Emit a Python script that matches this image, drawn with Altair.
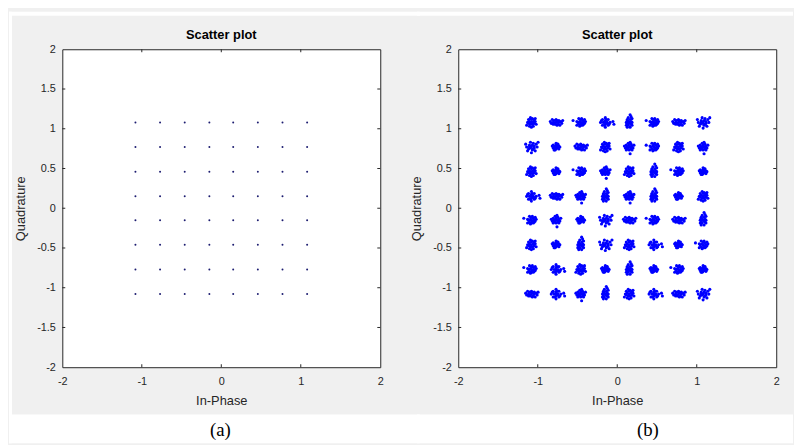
import altair as alt
import pandas as pd

# ---- data ----
LEVELS = [-1.08, -0.77, -0.46, -0.15, 0.15, 0.46, 0.77, 1.08]   # 64-QAM constellation levels
X_TICKS = [-2, -1, 0, 1, 2]
Y_TICKS = [-2, -1.5, -1, -0.5, 0, 0.5, 1, 1.5, 2]
INNER_X = [-1, 0, 1]
INNER_Y = [-1.5, -1, -0.5, 0, 0.5, 1, 1.5]
TITLE = "Scatter plot"
XLABEL = "In-Phase"
YLABEL = "Quadrature"
CAPTIONS = ["(a)", "(b)"]

# cluster shapes of the noisy panel, offsets in hundredths of a unit
PATTERNS = [
    [(0, 0), (2, 1), (-2, 1), (1, -2), (-1, -2), (3, -1), (-3, -1), (0, 3), (3, 3), (-3, 3),
     (2, -4), (-2, -4), (4, 1), (-4, 0), (1, 4), (-1, 5), (5, -2), (0, -5), (-5, -3), (4, 4)],
    [(0, 0), (3, 0), (-3, 0), (5, 1), (-5, -1), (1, 2), (-1, -2), (2, -2), (-2, 2), (6, -1),
     (-6, 1), (0, 3), (3, 2), (-3, -2), (4, -3), (-4, 3), (1, -3), (7, 2), (-2, -1), (2, 1)],
    [(0, 0), (1, 3), (-1, -3), (-1, 5), (1, -5), (2, 1), (-2, -1), (2, -2), (-2, 2), (2, 6),
     (-2, -5), (3, 0), (-3, 0), (1, 8), (3, 4), (-3, -3), (1, -1), (-1, 1), (3, -3), (-2, 3)],
    [(0, 0), (2, 2), (-2, -2), (4, 3), (-4, -3), (1, -1), (-1, 1), (3, 0), (0, 3), (-3, 0),
     (0, -3), (5, 1), (-8, 2), (2, -3), (-2, 4), (3, -2), (1, 4), (-4, 1), (4, -1), (-1, -4)],
    [(0, 0), (-2, 0), (2, 0), (-4, -1), (4, -1), (0, 2), (-1, 4), (2, 3), (-3, 2), (-3, -3),
     (3, -3), (0, -3), (-5, 1), (5, 2), (1, -7), (-2, -2), (2, -2), (-1, -1), (3, 1), (1, 5)],
    [(0, 0), (2, 0), (-2, 0), (0, 2), (0, -2), (3, 3), (-3, -3), (3, -3), (-3, 3), (5, 0),
     (-5, 0), (0, 5), (0, -5), (8, 1), (9, -2), (-4, 2), (4, -2), (1, 3), (-1, -3), (2, -1)],
    [(0, 0), (1, 1), (-1, -1), (1, -1), (-1, 1), (2, 0), (-2, 0), (0, 2), (0, -2), (3, 1),
     (-3, -1), (1, 3), (-1, -3), (3, -2), (-3, 2), (4, 0), (-4, 1), (2, 3), (-2, -3), (0, 4)],
    [(0, 0), (3, 1), (-2, 2), (1, -3), (-3, -2), (5, 3), (-1, 5), (4, -4), (-5, 0), (2, 4),
     (-4, -4), (6, 0), (0, -6), (-6, 3), (3, -1), (-1, -1), (1, 2), (2, -2), (-2, 0), (7, 5)],
]
# which shape each cluster has, rows from top (Q = 1.08) to bottom
ASSIGN = [
    [0, 1, 3, 5, 2, 3, 1, 7],
    [7, 6, 1, 0, 4, 3, 0, 4],
    [0, 6, 3, 4, 0, 2, 3, 6],
    [5, 1, 4, 2, 4, 2, 6, 0],
    [3, 4, 6, 7, 1, 3, 1, 2],
    [0, 6, 2, 7, 0, 5, 6, 3],
    [3, 5, 0, 6, 2, 6, 3, 6],
    [1, 5, 4, 2, 0, 5, 1, 7],
]
UNIT = 0.012

ideal = pd.DataFrame([{"I": i, "Q": q} for q in LEVELS for i in LEVELS])
rows = []
for r, q in enumerate(LEVELS[::-1]):
    for c, i in enumerate(LEVELS):
        for dx, dy in PATTERNS[ASSIGN[r][c]]:
            rows.append({"I": i + dx * UNIT, "Q": q + dy * UNIT})
noisy = pd.DataFrame(rows)

W = H = 322
INK = "#262626"
FONT = "Liberation Sans"
GRAY = "#f0f0f0"

common = dict(domain=False, ticks=False, tickSize=0, grid=False,
              labelFont=FONT, labelFontSize=11, labelColor=INK,
              labelExpr="'' + datum.value", labelOverlap=False, labelFlush=False,
              titleFont=FONT, titleFontSize=13, titleFontWeight="normal",
              titleColor=INK)
XAXIS = alt.Axis(values=X_TICKS, title=XLABEL, labelPadding=8, titlePadding=9, **common)
YAXIS = alt.Axis(values=Y_TICKS, title=YLABEL, labelPadding=7, titlePadding=9, **common)


def panel(df, color, size, caption, cap_x, left_edge, right_edge, left_strip):
    xs = alt.Scale(domain=[-2, 2], nice=False, zero=False)
    ys = alt.Scale(domain=[-2, 2], nice=False, zero=False)
    one = pd.DataFrame({"k": [0]})
    X = lambda: alt.X("I:Q", scale=xs, axis=XAXIS)
    Y = lambda: alt.Y("Q:Q", scale=ys, axis=YAXIS)
    layers = []
    # points first so that the axes are defined by this layer
    layers.append(alt.Chart(df).mark_circle(size=size, color=color, opacity=1).encode(x=X(), y=Y()))
    # inner tick marks (MATLAB style, pointing into the box)
    tx = pd.DataFrame({"I": INNER_X})
    ty = pd.DataFrame({"Q": INNER_Y})
    layers.append(alt.Chart(tx).mark_rule(color=INK).encode(
        x=X(), y=alt.value(H), y2=alt.value(H - 3)))
    layers.append(alt.Chart(tx).mark_rule(color=INK).encode(
        x=X(), y=alt.value(0), y2=alt.value(3)))
    layers.append(alt.Chart(ty).mark_rule(color=INK).encode(
        y=Y(), x=alt.value(0), x2=alt.value(3)))
    layers.append(alt.Chart(ty).mark_rule(color=INK).encode(
        y=Y(), x=alt.value(W), x2=alt.value(W - 3)))
    # white page margins around the grey figure window
    layers.append(alt.Chart(one).mark_rect(fill="white").encode(
        x=alt.value(left_edge), x2=alt.value(right_edge), y=alt.value(-38), y2=alt.value(-34)))
    layers.append(alt.Chart(one).mark_rect(fill="white").encode(
        x=alt.value(left_edge), x2=alt.value(right_edge), y=alt.value(370), y2=alt.value(399)))
    if left_strip:
        layers.append(alt.Chart(one).mark_rect(fill="white").encode(
            x=alt.value(left_edge), x2=alt.value(left_edge + 3), y=alt.value(-38), y2=alt.value(399)))
    layers.append(alt.Chart(one).mark_text(text=TITLE, font=FONT, fontSize=13, fontWeight="bold",
                                           color="black", align="center",
                                           baseline="alphabetic").encode(
        x=alt.value(W / 2), y=alt.value(-10)))
    layers.append(alt.Chart(one).mark_text(text=caption, font="Liberation Serif", fontSize=19,
                                           color="black", align="center",
                                           baseline="middle").encode(
        x=alt.value(cap_x), y=alt.value(386)))
    return alt.layer(*layers).properties(width=W, height=H)


left = panel(ideal, "#1c1c70", 4, CAPTIONS[0], 160, -54, 362, True)
right = panel(noisy, "#0000ff", 10, CAPTIONS[1], 192, -42, 339, False)

chart = alt.hconcat(left, right, spacing=79, bounds="flush").properties(
    padding={"left": 0, "top": 0, "right": 0, "bottom": 0},
    background=GRAY,
).configure_view(fill="white", stroke=INK, strokeWidth=1)

chart.save("out.html", embed_options={"renderer": "svg", "actions": False})
